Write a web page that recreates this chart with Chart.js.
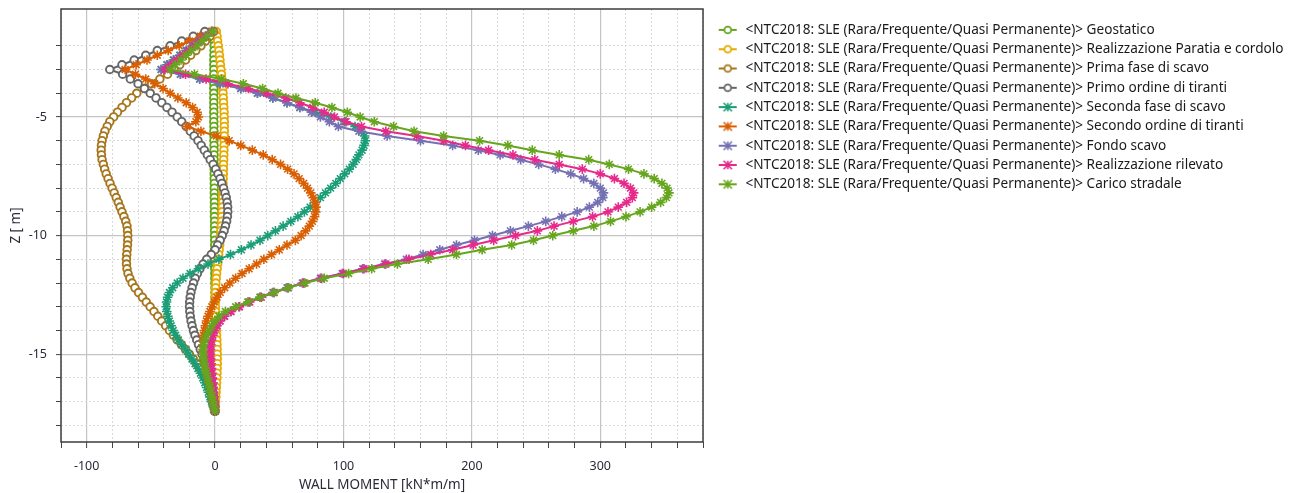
<!DOCTYPE html>
<html><head><meta charset="utf-8">
<script src="https://cdn.jsdelivr.net/npm/chart.js@4.4.0/dist/chart.umd.min.js"></script>
<style>html,body{margin:0;padding:0;background:#fff;overflow:hidden}#wrap{width:1298px;height:493px;position:relative}</style>
</head><body><div id="wrap"><canvas id="c" width="1298" height="493"></canvas></div>
<script>
// Depth of wall nodes [m]
const depth = [-1.4,-1.6,-1.8,-2.0,-2.2,-2.4,-2.6,-2.8,-3.0,-3.2,
-3.4,-3.6,-3.8,-4.0,-4.2,-4.4,-4.6,-4.8,-5.0,-5.2,
-5.4,-5.6,-5.8,-6.0,-6.2,-6.4,-6.6,-6.8,-7.0,-7.2,
-7.4,-7.6,-7.8,-8.0,-8.2,-8.4,-8.6,-8.8,-9.0,-9.2,
-9.4,-9.6,-9.8,-10.0,-10.2,-10.4,-10.6,-10.8,-11.0,-11.2,
-11.4,-11.6,-11.8,-12.0,-12.2,-12.4,-12.6,-12.8,-13.0,-13.2,
-13.4,-13.6,-13.8,-14.0,-14.2,-14.4,-14.6,-14.8,-15.0,-15.2,
-15.4,-15.6,-15.8,-16.0,-16.2,-16.4,-16.6,-16.8,-17.0,-17.2,
-17.4];

const seriesNames = [
"<NTC2018: SLE (Rara/Frequente/Quasi Permanente)> Geostatico",
"<NTC2018: SLE (Rara/Frequente/Quasi Permanente)> Realizzazione Paratia e cordolo",
"<NTC2018: SLE (Rara/Frequente/Quasi Permanente)> Prima fase di scavo",
"<NTC2018: SLE (Rara/Frequente/Quasi Permanente)> Primo ordine di tiranti",
"<NTC2018: SLE (Rara/Frequente/Quasi Permanente)> Seconda fase di scavo",
"<NTC2018: SLE (Rara/Frequente/Quasi Permanente)> Secondo ordine di tiranti",
"<NTC2018: SLE (Rara/Frequente/Quasi Permanente)> Fondo scavo",
"<NTC2018: SLE (Rara/Frequente/Quasi Permanente)> Realizzazione rilevato",
"<NTC2018: SLE (Rara/Frequente/Quasi Permanente)> Carico stradale"];

// Wall moment [kN*m/m] per stage, one value per depth node
const geostatico = [-0.3,-0.5,-0.6,-0.7,-0.8,-0.9,-1,-1,-1,-1,
-1,-1,-1,-1,-1,-1,-1,-1,-1,-1,
-0.9,-0.9,-0.9,-0.9,-0.8,-0.8,-0.8,-0.8,-0.7,-0.7,
-0.7,-0.7,-0.6,-0.6,-0.6,-0.6,-0.5,-0.5,-0.5,-0.5,
-0.4,-0.4,-0.4,-0.4,-0.3,-0.3,-0.3,-0.3,-0.3,-0.2,
-0.2,-0.2,-0.2,-0.2,-0.1,-0.1,-0.1,-0.1,-0.1,0,
0,0,0,0,0,0,0,0,0,0,
0,0,0,0,0,0,0,0,0,0,
0];
const paratiaCordolo = [1,1.5,2,2.5,3,3.4,3.8,4.2,4.6,5,
5.3,5.6,5.9,6.2,6.4,6.6,6.8,7,7.1,7.2,
7.2,7.2,7.2,7.1,7,6.9,6.8,6.7,6.6,6.5,
6.4,6.3,6.2,6.1,6,5.9,5.8,5.6,5.4,5.2,
5,4.8,4.5,4.2,3.9,3.6,3.2,2.8,2.4,2,
1.6,1.2,0.9,0.6,0.4,0.3,0.2,0.2,0.3,0.4,
0.5,0.6,0.8,1,1.2,1.4,1.5,1.6,1.7,1.7,
1.7,1.6,1.5,1.4,1.2,1,0.8,0.6,0.4,0.2,
0];
const primaFaseScavo = [-1,-4,-7.5,-11,-15,-19,-23,-27.5,-32,-37,
-43,-49.5,-55,-61,-65,-69,-72.5,-76,-79,-82,
-84,-85.8,-87,-88,-88.5,-88.7,-88.5,-88,-87,-86,
-84.8,-83.3,-81.8,-80.2,-78.6,-77,-75.4,-74,-72.5,-71,
-69.6,-68.6,-68.2,-68,-68,-68.2,-68.5,-68.8,-69,-69,
-68.6,-67.8,-66.4,-64.6,-62.4,-59.6,-56.6,-53.6,-50.6,-47.6,
-44.6,-41.6,-38.5,-35.5,-32.5,-29.5,-26.2,-23,-20,-17,
-14.3,-12,-9.8,-7.8,-6.2,-4.9,-3.8,-2.8,-2,-1.2,
-0.5];
const primoOrdineTiranti = [-8,-17,-26,-35,-45,-54,-63,-72.5,-82,-72,
-66,-60,-55,-50.5,-46,-41.5,-37.5,-33.5,-29.5,-26,
-22.5,-19.3,-16.3,-13.3,-10.8,-8.4,-6,-3.8,-1.5,0.5,
2.3,3.9,5.3,6.6,7.7,8.7,9.4,9.8,9.9,9.6,
9,8.1,7,5.6,3.9,2,0,-3,-6.5,-9.3,
-11.8,-13.8,-15.5,-16.8,-17.9,-18.8,-19.4,-19.8,-19.9,-19.7,
-19.3,-18.7,-17.9,-16.9,-15.7,-14.3,-12.9,-11.5,-10.1,-8.7,
-7.4,-6.2,-5.1,-4.1,-3.2,-2.5,-1.8,-1.2,-0.8,-0.4,
0];
const secondaFaseScavo = [-2.5,-7.5,-12.5,-17.5,-22.5,-27.5,-32.5,-37.5,-42,-27,
-12,4,20,33,45,56,66,78,90,101,
109,114,116.5,117,116,114.5,112,110,107.5,104.5,
101,97.5,94,90,86,82,78,74,69.5,64.5,
59,53,47,41,35,28,20.5,12,3,-5.5,
-13,-19.5,-25,-29.5,-33,-35.5,-37,-37.8,-38,-37.6,
-36.8,-35.6,-34.2,-32.6,-30.8,-28.6,-26,-23,-20.5,-18,
-15.6,-13.4,-11.4,-9.6,-8,-6.6,-5.2,-4,-2.8,-1.5,
0];
const secondoOrdineTiranti = [-3,-11.5,-20,-28,-36.5,-45,-53,-61.5,-70,-62,
-54,-47,-40.5,-35,-29,-22.5,-17.5,-14,-13,-15,
-22,-11,1,11,20,29,37.5,44.5,51,56.5,
61.5,65.5,69,72,74.5,76.5,78,78.6,78.4,77.5,
75.8,73.4,70.5,67,62.5,56,50,44,38,32.3,
26.5,21,16,11.5,7.5,4,1.5,-0.7,-2.5,-4,
-5.5,-6.7,-7.6,-8.4,-9,-9.3,-9.4,-9.3,-9,-8.5,
-7.9,-7.2,-6.4,-5.5,-4.6,-3.7,-2.8,-2,-1.3,-0.6,
0];
const fondoScavo = [-2.5,-7.5,-12.5,-17.5,-22,-27,-32,-37,-42,-27,
-12,4,20,33,45,56,66,75,82,89,
96,112,134,160,185,205,222,238,252,265,
277,287,295,300,302.5,302,298,291.5,282,270,
257.5,244,230,216,202,188,175,162,149,132,
115,99,82,68,56,45,35,26,18.5,12,
7,3.5,1,-1,-2,-3,-3.5,-3.7,-3.8,-3.6,
-3.3,-3,-2.6,-2.2,-1.8,-1.5,-1.2,-0.9,-0.6,-0.3,
0];
const realizzazioneRilevato = [-2.3,-7,-11.6,-16,-20.6,-25.3,-30,-34.5,-39,-23,
-7,10,26,40,55,66,76,85,93,102,
114,133,157,178,195,213,232,249,268,286,
300,311,318.5,323.5,326,325,320.5,314,306,294,
279,264,251,234,217,201,185,168,151,133,
116,100,83,69,57,46,36,27,19,12.5,
7.5,4,1.5,-0.5,-1.8,-2.8,-3.4,-3.6,-3.6,-3.4,
-3.1,-2.8,-2.5,-2.1,-1.8,-1.5,-1.2,-0.9,-0.6,-0.3,
0];
const caricoStradale = [-2,-6,-10,-14,-18.5,-22.5,-26.5,-31,-35,-16,
5,22,37,49,63,78,91,103,113,124,
139,155,178,206,228,247,268,291,307,322,
334,342,348,352,353.5,351.5,347,340,331,320,
308,295,279,263,248,231,208,188,166,142,
122,104,85,70,57,46,35,25.5,16,8,
3,0,-2.5,-4.5,-6.5,-8,-9,-9.3,-9.3,-9,
-8.4,-7.6,-6.7,-5.8,-4.9,-4,-3.2,-2.4,-1.6,-0.8,
0];

const xTickLabels = [-100, 0, 100, 200, 300];
const yTickLabels = [-5, -10, -15];

// styles
const seriesValues = [geostatico, paratiaCordolo, primaFaseScavo, primoOrdineTiranti, secondaFaseScavo, secondoOrdineTiranti, fondoScavo, realizzazioneRilevato, caricoStradale];
const seriesColors = ['#66a61e','#e6ab02','#a6761d','#666666','#1b9e77','#d95f02','#7570b3','#e7298a','#66a61e'];
const seriesMarkers = ['circle','circle','circle','circle','star','star','star','star','star'];

const FONT = "'Noto Sans', 'Open Sans', 'DejaVu Sans', sans-serif";
const TXT = '#2a2a38';
const LEGEND_W = 595;

function legendIcon(color, kind) {
  const c = document.createElement('canvas');
  c.width = 30; c.height = 14;
  const g = c.getContext('2d');
  g.strokeStyle = color; g.lineWidth = 2;
  g.beginPath(); g.moveTo(10, 7); g.lineTo(28, 7); g.stroke();
  const cx = 19, cy = 7;
  if (kind === 'circle') {
    g.fillStyle = '#fff'; g.lineWidth = 1.8;
    g.beginPath(); g.arc(cx, cy, 3.4, 0, Math.PI * 2); g.fill(); g.stroke();
  } else {
    g.lineWidth = 1.6; const r = 4.2;
    g.beginPath();
    g.moveTo(cx - r, cy - r); g.lineTo(cx + r, cy + r);
    g.moveTo(cx - r, cy + r); g.lineTo(cx + r, cy - r);
    g.moveTo(cx, cy - r); g.lineTo(cx, cy + r);
    g.stroke();
  }
  return c;
}
const legendIcons = seriesColors.map((c, i) => legendIcon(c, seriesMarkers[i]));

const datasets = seriesNames.map((name, i) => ({
  label: name,
  data: depth.map((z, k) => ({ x: seriesValues[i][k], y: z })),
  showLine: true,
  borderColor: seriesColors[i],
  backgroundColor: seriesColors[i],
  borderWidth: 2,
  pointStyle: seriesMarkers[i],
  pointRadius: seriesMarkers[i] === 'circle' ? 3.8 : 4.8,
  pointBorderWidth: seriesMarkers[i] === 'circle' ? 1.9 : 1.6,
  pointBackgroundColor: seriesMarkers[i] === 'circle' ? '#ffffff' : seriesColors[i],
  pointBorderColor: seriesColors[i],
  tension: 0,
  order: -i
}));

const framePlugin = {
  id: 'frame',
  beforeLayout(chart) {
    const L = chart.legend;
    if (L && !L._fixedW) {
      const f = L.fit.bind(L);
      L.fit = function () { f(); this.width = LEGEND_W; };
      L._fixedW = true;
    }
  },
  beforeDatasetsDraw(chart) {
    const a = chart.chartArea, g = chart.ctx;
    g.save(); g.strokeStyle = '#3c3c3c'; g.lineWidth = 1.5;
    g.strokeRect(a.left, a.top, a.right - a.left, a.bottom - a.top);
    g.restore();
  }
};

const isMult = (v, m) => Math.abs(v / m - Math.round(v / m)) < 1e-6;
const noPad = s => { s.paddingTop = 0; s.paddingBottom = 0; s.paddingLeft = 0; s.paddingRight = 0; };

new Chart(document.getElementById('c'), {
  type: 'scatter',
  data: { datasets },
  options: {
    responsive: false,
    animation: false,
    layout: { padding: { top: 9, right: 0, bottom: 0, left: 0 } },
    plugins: {
      legend: {
        position: 'right', align: 'start',
        title: { display: true, text: ' ', font: { size: 7 }, padding: 0 },
        labels: {
          usePointStyle: true, pointStyleWidth: 30, boxHeight: 13, padding: 5.7,
          color: '#1a1a1a', font: { family: FONT, size: 13.6 },
          generateLabels: chart => chart.data.datasets.map((ds, i) => ({
            text: ds.label, pointStyle: legendIcons[i], fillStyle: seriesColors[i],
            strokeStyle: seriesColors[i], lineWidth: 0, fontColor: '#1a1a1a',
            hidden: !chart.isDatasetVisible(i), datasetIndex: i
          }))
        }
      },
      tooltip: { enabled: false }
    },
    scales: {
      x: {
        type: 'linear', position: 'bottom', min: -120, max: 380,
        ticks: {
          stepSize: 20, autoSkip: false, maxRotation: 0, padding: 11,
          color: TXT, font: { family: FONT, size: 12.5 },
          callback: v => xTickLabels.includes(v) ? String(v) : ''
        },
        grid: {
          color: c => isMult(c.tick.value, 100) ? '#c4c4c4' : '#d9d9d9',
          lineWidth: c => isMult(c.tick.value, 100) ? 1.2 : 1,
          tickLength: 6, tickColor: '#444', tickWidth: 1
        },
        border: { display: false, dash: c => (c.tick && isMult(c.tick.value, 100)) ? [] : [2, 2] },
        title: { display: true, text: 'WALL MOMENT [kN*m/m]', color: TXT, font: { family: FONT, size: 13.5 }, padding: { top: 0, bottom: 0 } },
        afterFit: s => { s.height = 51; noPad(s); }
      },
      y: {
        type: 'linear', position: 'left', min: -18.7, max: -0.45,
        ticks: {
          stepSize: 1, autoSkip: false, padding: 9,
          color: TXT, font: { family: FONT, size: 12.5 },
          callback: v => yTickLabels.some(t => Math.abs(t - v) < 1e-6) ? String(v) : ''
        },
        grid: {
          color: c => !isMult(c.tick.value, 1) ? 'rgba(0,0,0,0)' : (isMult(c.tick.value, 5) ? '#c4c4c4' : '#d9d9d9'),
          lineWidth: c => isMult(c.tick.value, 5) ? 1.2 : 1,
          tickLength: 5, tickWidth: 1,
          tickColor: c => isMult(c.tick.value, 1) ? '#444' : 'rgba(0,0,0,0)'
        },
        border: { display: false, dash: c => (c.tick && isMult(c.tick.value, 5)) ? [] : [2, 2] },
        title: { display: true, text: 'Z [ m]', color: TXT, font: { family: FONT, size: 13.5 }, padding: { top: 8, bottom: 0 } },
        afterFit: s => { s.width = 61; noPad(s); }
      }
    }
  },
  plugins: [framePlugin]
});
</script>
</body></html>
